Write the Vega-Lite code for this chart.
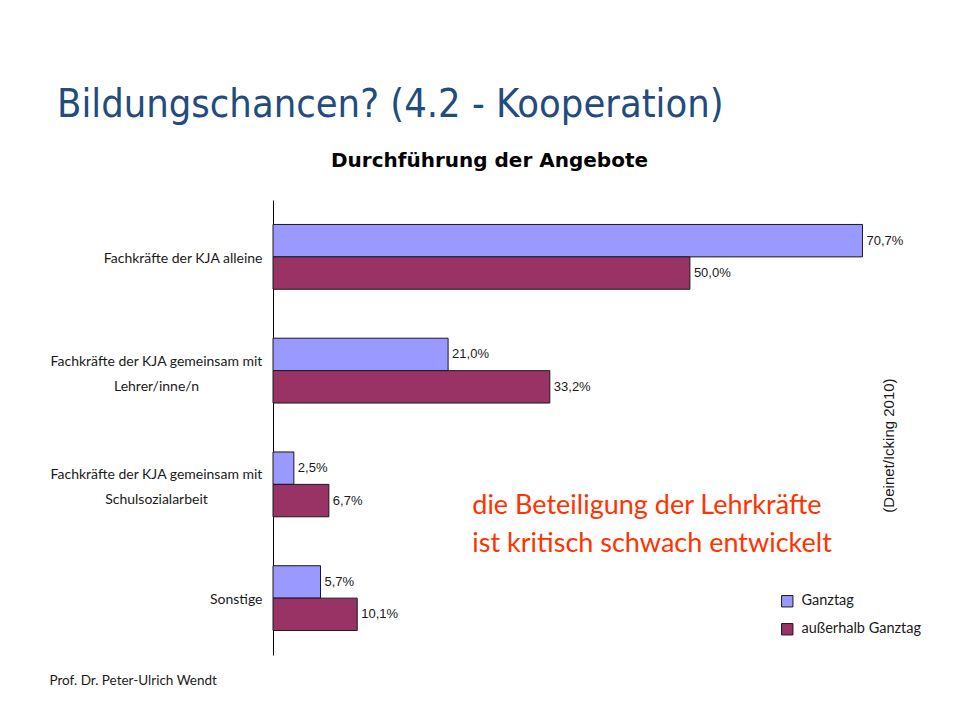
{
  "$schema": "https://vega.github.io/schema/vega-lite/v6.json",
  "width": 617,
  "height": 455,
  "autosize": "none",
  "padding": {"left": 273, "top": 200, "right": 67, "bottom": 65},
  "background": "white",
  "config": {
    "view": {"stroke": null},
    "locale": {"number": {"decimal": ",", "thousands": ".", "grouping": [3], "currency": ["", " €"]}},
    "font": "Lato"
  },
  "title": {
    "text": "Bildungschancen? (4.2 - Kooperation)",
    "anchor": "start",
    "frame": "group",
    "dx": -216,
    "dy": 10,
    "fontSize": 39.5,
    "font": "DejaVu Sans Condensed, Lato",
    "fontWeight": "normal",
    "color": "#234B7E",
    "baseline": "alphabetic"
  },
  "data": {
    "values": [
      {"cat": "Fachkräfte der KJA alleine", "series": "Ganztag", "value": 0.707},
      {"cat": "Fachkräfte der KJA alleine", "series": "außerhalb Ganztag", "value": 0.5},
      {"cat": "Fachkräfte der KJA gemeinsam mit|Lehrer/inne/n", "series": "Ganztag", "value": 0.21},
      {"cat": "Fachkräfte der KJA gemeinsam mit|Lehrer/inne/n", "series": "außerhalb Ganztag", "value": 0.332},
      {"cat": "Fachkräfte der KJA gemeinsam mit|Schulsozialarbeit", "series": "Ganztag", "value": 0.025},
      {"cat": "Fachkräfte der KJA gemeinsam mit|Schulsozialarbeit", "series": "außerhalb Ganztag", "value": 0.067},
      {"cat": "Sonstige", "series": "Ganztag", "value": 0.057},
      {"cat": "Sonstige", "series": "außerhalb Ganztag", "value": 0.101}
    ]
  },
  "resolve": {"axis": {"x": "independent", "y": "independent"}},
  "layer": [
    {
      "mark": {"type": "bar", "stroke": "#1a1a1a", "strokeWidth": 1},
      "encoding": {
        "y": {
          "field": "cat", "type": "nominal", "sort": null,
          "scale": {"paddingInner": 0.43, "paddingOuter": 0.215},
          "axis": {
            "orient": "left",
            "domain": true, "domainColor": "#000000", "domainWidth": 1,
            "ticks": false, "grid": false,
            "labelExpr": "split(datum.label, '|')",
            "labelFont": "Lato", "labelFontSize": 14, "labelColor": "#1a1a1a",
            "labelLineHeight": 25, "labelLimit": 300,
            "labelAlign": {"condition": {"test": "indexof(datum.value, '|') >= 0", "value": "center"}, "value": "right"},
            "labelPadding": {"condition": {"test": "indexof(datum.value, '|') >= 0", "value": 117}, "value": 11},
            "labelOffset": {"condition": {"test": "indexof(datum.value, '|') >= 0", "value": -9}, "value": 2},
            "labelBaseline": "middle",
            "title": "Prof. Dr. Peter-Ulrich Wendt",
            "titleAngle": 0, "titleAlign": "left", "titleBaseline": "middle",
            "titleX": -224, "titleY": 480,
            "titleFont": "Lato", "titleFontSize": 13.5, "titleFontWeight": "normal", "titleColor": "#1a1a1a"
          }
        },
        "yOffset": {"field": "series", "type": "nominal", "sort": ["Ganztag", "außerhalb Ganztag"], "scale": {"paddingInner": 0, "paddingOuter": 0}},
        "x": {
          "field": "value", "type": "quantitative",
          "scale": {"domain": [0, 0.74], "nice": false},
          "axis": {
            "orient": "top", "domain": false, "ticks": false, "labels": false, "grid": false,
            "title": "Durchführung der Angebote",
            "titleX": 216, "titleY": -40, "titleAlign": "center", "titleBaseline": "middle",
            "titleFont": "DejaVu Sans", "titleFontSize": 20, "titleFontWeight": "bold", "titleColor": "#000000"
          }
        },
        "color": {
          "field": "series", "type": "nominal",
          "sort": ["Ganztag", "außerhalb Ganztag"],
          "scale": {"domain": ["Ganztag", "außerhalb Ganztag"], "range": ["#9999FF", "#993366"]},
          "legend": {
            "title": null, "orient": "none", "legendX": 507, "legendY": 394,
            "symbolType": "square", "symbolSize": 130, "symbolStrokeColor": "#1a1a1a", "symbolStrokeWidth": 1,
            "labelFont": "Lato", "labelFontSize": 14.5, "labelColor": "#1a1a1a", "rowPadding": 12, "labelOffset": 7
          }
        }
      }
    },
    {
      "mark": {"type": "text", "align": "left", "baseline": "middle", "dx": 4, "font": "Liberation Sans", "fontSize": 13, "color": "#1a1a1a"},
      "encoding": {
        "y": {"field": "cat", "type": "nominal", "sort": null, "axis": null},
        "yOffset": {"field": "series", "type": "nominal", "sort": ["Ganztag", "außerhalb Ganztag"]},
        "x": {
          "field": "value", "type": "quantitative",
          "axis": {
            "orient": "bottom", "domain": false, "ticks": false, "labels": false, "grid": false,
            "title": "(Deinet/Icking 2010)",
            "titleAngle": 270, "titleX": 615, "titleY": -210, "titleAlign": "center", "titleBaseline": "middle",
            "titleFont": "Liberation Sans", "titleFontSize": 15, "titleFontWeight": "normal", "titleColor": "#1a1a1a"
          }
        },
        "text": {"field": "value", "type": "quantitative", "format": ".1%"}
      }
    },
    {
      "data": {"values": [{"note": ["die Beteiligung der Lehrkräfte", "ist kritisch schwach entwickelt"]}]},
      "mark": {"type": "text", "align": "left", "baseline": "middle", "dy": 22, "font": "Lato", "fontSize": 27, "lineHeight": 38, "color": "#FF3300"},
      "encoding": {
        "x": {"datum": 0.239, "type": "quantitative", "axis": null},
        "y": {"datum": "Fachkräfte der KJA gemeinsam mit|Schulsozialarbeit", "type": "nominal", "band": 1, "axis": null},
        "text": {"field": "note"}
      }
    }
  ]
}
